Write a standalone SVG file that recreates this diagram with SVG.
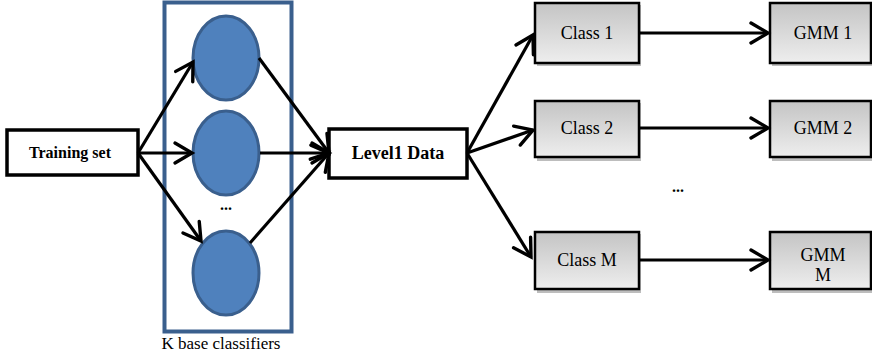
<svg xmlns="http://www.w3.org/2000/svg" width="872" height="358" viewBox="0 0 872 358">
<defs>
<linearGradient id="g" x1="0" y1="0" x2="0" y2="1">
<stop offset="0" stop-color="#c4c4c4"/>
<stop offset="1" stop-color="#eeeeee"/>
</linearGradient>
<marker id="ah" markerUnits="userSpaceOnUse" markerWidth="30" markerHeight="30" refX="22" refY="15" orient="auto" viewBox="0 0 30 30">
<path d="M5,5 L22,15 L5,25" fill="none" stroke="#000" stroke-width="3.4" stroke-linecap="round" stroke-linejoin="miter"/>
</marker>
</defs>
<style>
.box{fill:#fff;stroke:#000;stroke-width:3.5}
.gbox{fill:url(#g);stroke:#000;stroke-width:2.5}
.shadow{fill:#bdbdbd}
.ell{fill:#4f81bd;stroke:#3a5f8d;stroke-width:3}
.conn{stroke:#000;stroke-width:3.2;fill:none;marker-end:url(#ah)}
text{font-family:'Liberation Serif','Times New Roman',serif;font-size:18px;fill:#000;text-anchor:middle}
.b{font-weight:bold}
</style>
<g id="training-set">
<rect class="box" x="7" y="130" width="131" height="45"/>
<text class="b" x="70" y="158" style="font-size:16px">Training set</text>
</g>
<g id="k-base-classifiers">
<rect x="164.5" y="2.5" width="127" height="329" fill="none" stroke="#3a5f8d" stroke-width="4"/>
<ellipse class="ell" cx="226" cy="58" rx="33" ry="42"/>
<ellipse class="ell" cx="226" cy="153" rx="33" ry="42"/>
<text class="b" x="226" y="210" style="font-size:16px">...</text>
<ellipse class="ell" cx="226" cy="273" rx="33" ry="42"/>
<text x="221" y="349" style="font-size:17px">K base classifiers</text>
</g>
<g id="level1-data">
<rect class="box" x="329" y="129" width="138" height="49"/>
<text class="b" x="398" y="159">Level1 Data</text>
</g>
<g id="class-1">
<rect class="shadow" x="537" y="5" width="104" height="61"/>
<rect class="gbox" x="535" y="3" width="104" height="60"/>
<text x="587" y="39">Class 1</text>
</g>
<g id="class-2">
<rect class="shadow" x="537" y="103" width="104" height="58"/>
<rect class="gbox" x="535" y="101" width="104" height="56"/>
<text x="587" y="134">Class 2</text>
</g>
<g id="class-m">
<rect class="shadow" x="537" y="234" width="104" height="59"/>
<rect class="gbox" x="535" y="232" width="104" height="57"/>
<text x="587" y="266">Class M</text>
</g>
<g id="gmm-1">
<rect class="shadow" x="772" y="5" width="102" height="61"/>
<rect class="gbox" x="770" y="3" width="101" height="60"/>
<text x="823" y="39">GMM 1</text>
</g>
<g id="gmm-2">
<rect class="shadow" x="772" y="103" width="102" height="58"/>
<rect class="gbox" x="770" y="101" width="101" height="56"/>
<text x="823" y="134">GMM 2</text>
</g>
<g id="gmm-m">
<rect class="shadow" x="772" y="234" width="102" height="59"/>
<rect class="gbox" x="770" y="232" width="101" height="57"/>
<text x="823" y="261">GMM</text>
<text x="823" y="281">M</text>
</g>
<text class="b" x="678" y="192" style="font-size:16px">...</text>
<g id="connectors">
<line class="conn" x1="138" y1="153" x2="193" y2="62"/>
<line class="conn" x1="138" y1="153" x2="192" y2="153"/>
<line class="conn" x1="138" y1="153" x2="201" y2="241"/>
<line class="conn" x1="259" y1="58" x2="329" y2="153"/>
<line class="conn" x1="260" y1="153" x2="329" y2="153"/>
<line class="conn" x1="250" y1="243" x2="329" y2="153"/>
<line class="conn" x1="467" y1="153" x2="533" y2="35"/>
<line class="conn" x1="467" y1="153" x2="533" y2="130"/>
<line class="conn" x1="467" y1="153" x2="531" y2="257"/>
<line class="conn" x1="639" y1="33" x2="768" y2="33"/>
<line class="conn" x1="639" y1="128" x2="768" y2="128"/>
<line class="conn" x1="639" y1="260" x2="768" y2="260"/>
</g>
</svg>
